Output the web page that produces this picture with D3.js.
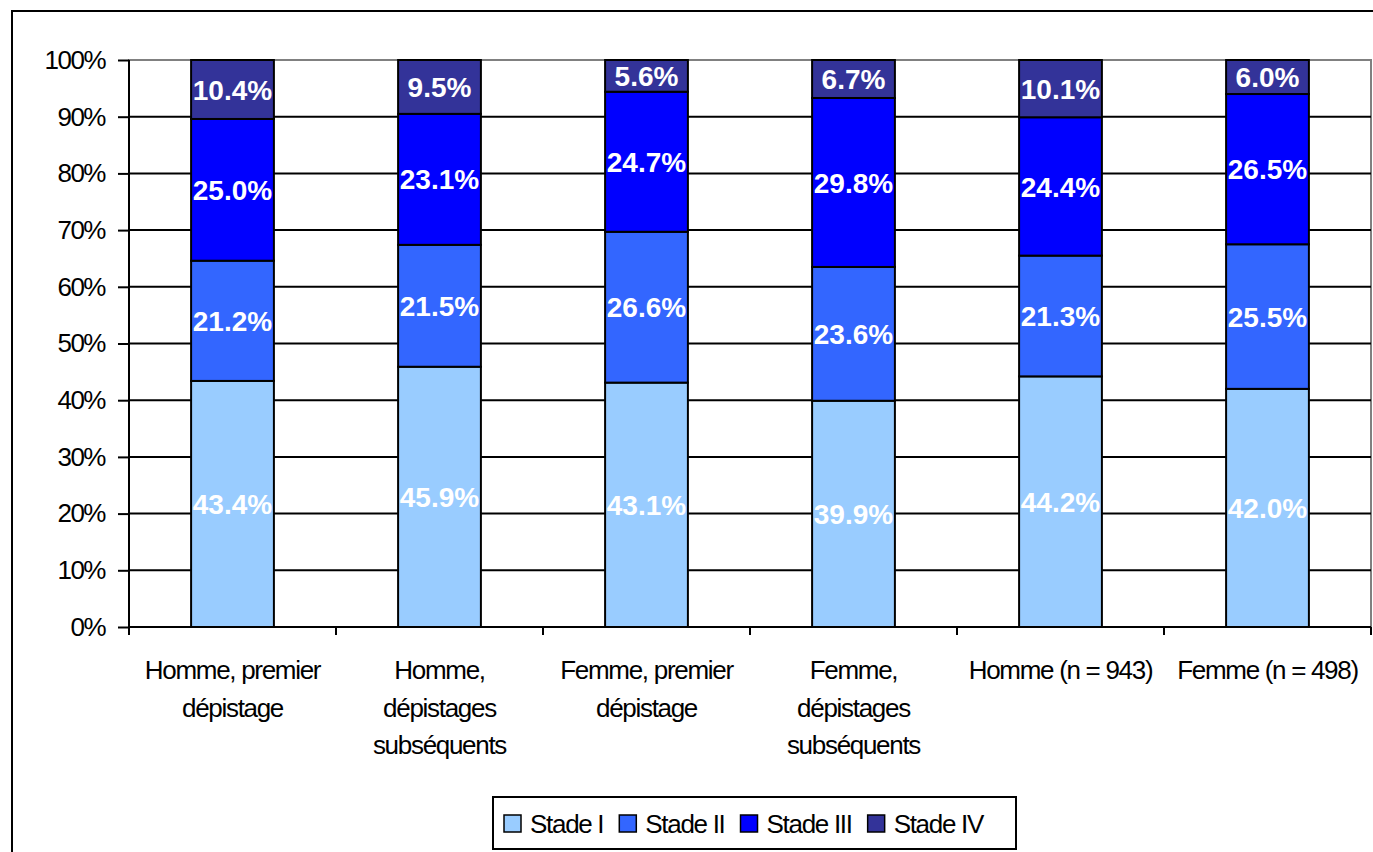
<!DOCTYPE html>
<html><head><meta charset="utf-8">
<script src="https://cdn.jsdelivr.net/npm/d3@7"></script>
<style>body{margin:0;background:#fff}svg{display:block;font-family:"Liberation Sans",Arial,sans-serif}</style>
</head><body><svg id="c" width="1373" height="852"></svg>
<script>
const categories = [["Homme, premier","dépistage"],["Homme,","dépistages","subséquents"],["Femme, premier","dépistage"],["Femme,","dépistages","subséquents"],["Homme (n = 943)"],["Femme (n = 498)"]];
const series = ["Stade I","Stade II","Stade III","Stade IV"];
const stade1 = [43.4,45.9,43.1,39.9,44.2,42.0];
const stade2 = [21.2,21.5,26.6,23.6,21.3,25.5];
const stade3 = [25.0,23.1,24.7,29.8,24.4,26.5];
const stade4 = [10.4,9.5,5.6,6.7,10.1,6.0];
const yTicks = [0,10,20,30,40,50,60,70,80,90,100];
const colors = ["#99CCFF","#3366FF","#0000FF","#333399"];

const FS = 26, LS = -1.3;
const svg = d3.select("#c");
svg.append("rect").attr("x",12).attr("y",11).attr("width",1373).attr("height",900).attr("fill","none").attr("stroke","#000").attr("stroke-width",2);

const L=129,R=1371,T=60,B=627;
const x = d3.scaleBand().domain(d3.range(6)).range([L,R]).paddingInner(0.6).paddingOuter(0.3);
const xb = d3.scaleBand().domain(d3.range(6)).range([L,R]);
const y = d3.scaleLinear().domain([0,100]).range([B,T]);

svg.append("rect").attr("x",L).attr("y",T).attr("width",R-L).attr("height",B-T).attr("fill","none").attr("stroke","#808080").attr("stroke-width",2);
svg.append("g").selectAll("line").data(yTicks.filter(d=>d>0&&d<100)).join("line")
  .attr("x1",L).attr("x2",R).attr("y1",d=>y(d)).attr("y2",d=>y(d)).attr("stroke","#000").attr("stroke-width",2);

const ya = svg.append("g").attr("transform",`translate(${L},0)`).call(d3.axisLeft(y).tickValues(yTicks).tickFormat(d=>d+"%").tickSize(11).tickPadding(13));
ya.select(".domain").attr("stroke","#000").attr("stroke-width",2).attr("d",`M0,${T}V${B}`);
ya.selectAll(".tick line").attr("stroke","#000").attr("stroke-width",2);
ya.selectAll(".tick text").attr("font-size",FS).attr("fill","#000").attr("letter-spacing",-1.5).attr("font-family","Liberation Sans, Arial, sans-serif");

const rows = d3.range(6).map(i=>({i, "Stade I":stade1[i],"Stade II":stade2[i],"Stade III":stade3[i],"Stade IV":stade4[i]}));
const stack = d3.stack().keys(series)(rows);
const g = svg.append("g");
stack.forEach((s,si)=>{
  g.append("g").selectAll("rect").data(s).join("rect")
    .attr("x",d=>x(d.data.i)).attr("width",x.bandwidth())
    .attr("y",d=>y(d[1])).attr("height",d=>y(d[0])-y(d[1]))
    .attr("fill",colors[si]).attr("stroke","#000").attr("stroke-width",2);
});
stack.forEach((s,si)=>{
  g.append("g").selectAll("text").data(s).join("text")
    .attr("x",d=>x(d.data.i)+x.bandwidth()/2).attr("y",d=>y((d[0]+d[1])/2))
    .attr("dy","0.36em").attr("text-anchor","middle").attr("fill","#fff").attr("font-weight","bold").attr("font-size",28)
    .text(d=>(d[1]-d[0]).toFixed(1)+"%");
});

svg.append("line").attr("x1",L).attr("x2",R).attr("y1",B).attr("y2",B).attr("stroke","#000").attr("stroke-width",2);
svg.append("g").selectAll("line").data(d3.range(7)).join("line")
  .attr("x1",d=>L+d*xb.bandwidth()).attr("x2",d=>L+d*xb.bandwidth()).attr("y1",B).attr("y2",B+8).attr("stroke","#000").attr("stroke-width",2);
const xl = svg.append("g").selectAll("text").data(categories).join("text")
  .attr("x",(d,i)=>xb(i)+xb.bandwidth()/2).attr("y",679).attr("text-anchor","middle").attr("font-size",FS).attr("letter-spacing",LS);
xl.selectAll("tspan").data(d=>d).join("tspan").attr("x",function(){return this.parentNode.getAttribute("x");}).attr("dy",(d,i)=>i?37.5:0).text(d=>d);

// legend
const lg = svg.append("g");
lg.append("rect").attr("x",493).attr("y",797).attr("width",523).attr("height",52).attr("fill","#fff").attr("stroke","#000").attr("stroke-width",2);
let cx = 504;
series.forEach((s,i)=>{
  lg.append("rect").attr("x",cx).attr("y",815).attr("width",17).attr("height",17).attr("fill",colors[i]).attr("stroke","#000").attr("stroke-width",1.5);
  const t = lg.append("text").attr("x",cx+26).attr("y",833).attr("font-size",FS).attr("letter-spacing",LS).text(s);
  cx = cx + 26 + t.node().getComputedTextLength() + 16;
});
</script></body></html>
